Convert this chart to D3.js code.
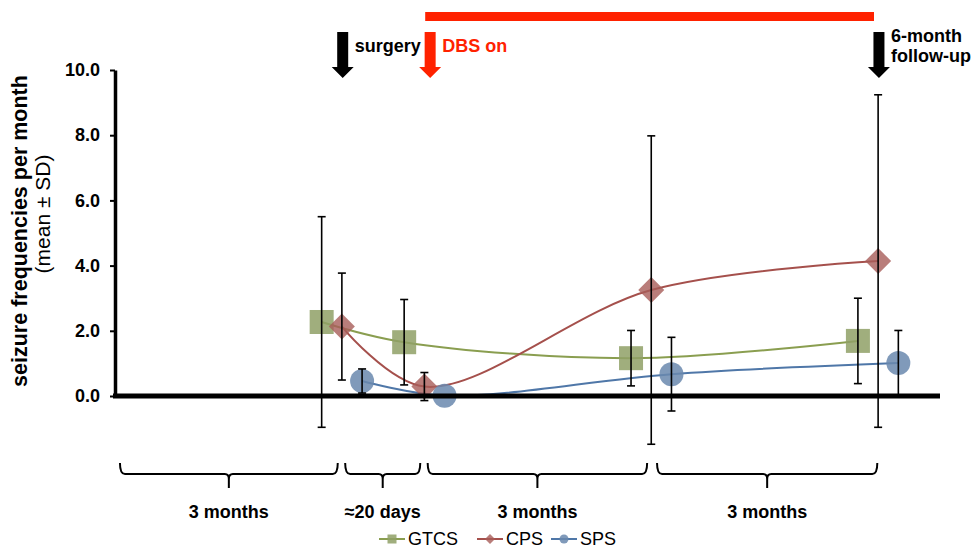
<!DOCTYPE html>
<html>
<head>
<meta charset="utf-8">
<script src="https://cdn.jsdelivr.net/npm/d3@7"></script>
<style>
  body { margin: 0; background: #fff; }
  svg { display: block; font-family: "Liberation Sans", Arial, sans-serif; }
</style>
</head>
<body>
<svg id="chart" width="971" height="553"></svg>
<script>
// time points (arbitrary timeline units) for the four assessment periods
let groupTime = [27.5, 37.5, 65.0, 92.5];

let seriesNames = ["GTCS", "CPS", "SPS"];
let seriesOffset = [-2.45, 0, 2.45];

let gtcsMean = [2.27, 1.65, 1.16, 1.69],
    gtcsSD = [3.23, 1.31, 0.85, 1.31];
let cpsMean = [2.13, 0.29, 3.25, 4.14],
    cpsSD = [1.64, 0.43, 4.73, 5.1];
let spsMean = [0.46, 0.01, 0.67, 1.01],
    spsSD = [0.37, 0, 1.13, 1.0];

let yTicks = [0, 2, 4, 6, 8, 10];

// braces under the axis: [start, end, label]
let periods = [
    [0.6, 27.0, "3 months"],
    [27.9, 37.0, "≈20 days"],
    [37.9, 64.5, "3 months"],
    [65.7, 92.4, "3 months"]
];

// arrows at the top
let events = [
    { t: 27.6, label: ["surgery"], color: "#000" },
    { t: 38.2, label: ["DBS on"], color: "#ff2200" },
    { t: 92.6, label: ["6-month", "follow-up"], color: "#000" }
];
let dbsPeriod = [37.6, 92.0];

let colors = {
    GTCS: { line: "#8a9e50", fill: "#8fa066" },
    CPS: { line: "#a5504c", fill: "#a85c59" },
    SPS: { line: "#4f77a8", fill: "#6a88ae" }
};

let series = [
    { name: "GTCS", mean: gtcsMean, sd: gtcsSD },
    { name: "CPS", mean: cpsMean, sd: cpsSD },
    { name: "SPS", mean: spsMean, sd: spsSD }
];

let svg = d3.select("#chart");

let x = d3.scaleLinear().domain([0, 100]).range([115, 940]);
let y = d3.scaleLinear().domain([0, 10]).range([396, 70]);

// y axis
let yAxis = svg.append("g")
    .attr("transform", "translate(115,0)")
    .call(d3.axisLeft(y).tickValues(yTicks).tickFormat(d3.format(".1f"))
        .tickSize(5).tickSizeOuter(0).tickPadding(10));
yAxis.select(".domain").attr("stroke-width", 3.5);
yAxis.selectAll(".tick line").attr("stroke-width", 2);
yAxis.selectAll(".tick text")
    .attr("font-size", 18)
    .attr("font-weight", "bold")
    .attr("font-family", "Liberation Sans, Arial, sans-serif")
    .attr("fill", "#000");

svg.append("text")
    .attr("transform", "translate(27,231) rotate(-90)")
    .attr("text-anchor", "middle")
    .attr("font-size", 21.5)
    .attr("font-weight", "bold")
    .text("seizure frequencies per month");
svg.append("text")
    .attr("transform", "translate(50,214) rotate(-90)")
    .attr("text-anchor", "middle")
    .attr("font-size", 21)
    .text("(mean ± SD)");

let points = s => s.mean.map((m, i) => ({
    x: groupTime[i] + seriesOffset[seriesNames.indexOf(s.name)],
    m: m,
    sd: s.sd[i]
}));

// smooth lines
let line = d3.line()
    .x(d => x(d.x))
    .y(d => y(d.m))
    .curve(d3.curveCatmullRom);

series.forEach(s => {
    svg.append("path")
        .datum(points(s))
        .attr("d", line)
        .attr("fill", "none")
        .attr("stroke", colors[s.name].line)
        .attr("stroke-width", 2);
});

// markers
function drawMarker(g, name, cx, cy, size) {
    if (name == "GTCS") {
        g.append("rect")
            .attr("x", cx - size / 2).attr("y", cy - size / 2)
            .attr("width", size).attr("height", size)
            .attr("fill", colors[name].fill).attr("fill-opacity", 0.85);
    } else if (name == "CPS") {
        let h = size / 2;
        g.append("path")
            .attr("d", `M${cx},${cy - h}L${cx + h},${cy}L${cx},${cy + h}L${cx - h},${cy}Z`)
            .attr("fill", colors[name].fill).attr("fill-opacity", 0.8);
    } else {
        g.append("circle")
            .attr("cx", cx).attr("cy", cy).attr("r", size / 2)
            .attr("fill", colors[name].fill).attr("fill-opacity", 0.85);
    }
}

let markG = svg.append("g");
series.forEach(s => {
    points(s).forEach(p => {
        drawMarker(markG, s.name, x(p.x), y(p.m), s.name == "CPS" ? 26 : 24);
    });
});

// error bars
let errG = svg.append("g").attr("stroke", "#000").attr("stroke-width", 1.6);
series.forEach(s => {
    points(s).filter(p => p.sd > 0).forEach(p => {
        let cx = x(p.x), top = y(p.m + p.sd), bot = y(p.m - p.sd);
        errG.append("line").attr("x1", cx).attr("x2", cx).attr("y1", top).attr("y2", bot);
        errG.append("line").attr("x1", cx - 4).attr("x2", cx + 4).attr("y1", top).attr("y2", top);
        errG.append("line").attr("x1", cx - 4).attr("x2", cx + 4).attr("y1", bot).attr("y2", bot);
    });
});

// thick zero line
svg.append("line")
    .attr("x1", 113).attr("x2", x(100))
    .attr("y1", y(0)).attr("y2", y(0))
    .attr("stroke", "#000").attr("stroke-width", 5);

// braces
let braceTop = 463, braceMid = 474, braceTip = 488;
periods.forEach(p => {
    let x0 = x(p[0]), x1 = x(p[1]), mid = (x0 + x1) / 2;
    svg.append("path")
        .attr("d", `M${x0},${braceTop}Q${x0},${braceMid} ${x0 + 5},${braceMid}H${mid - 4}` +
            `Q${mid},${braceMid} ${mid},${braceMid + 5}V${braceTip}` +
            `M${mid},${braceMid + 5}Q${mid},${braceMid} ${mid + 4},${braceMid}H${x1 - 5}` +
            `Q${x1},${braceMid} ${x1},${braceTop}`)
        .attr("fill", "none")
        .attr("stroke", "#000")
        .attr("stroke-width", 2);
    svg.append("text")
        .attr("x", mid).attr("y", 518)
        .attr("text-anchor", "middle")
        .attr("font-size", 18)
        .attr("font-weight", "bold")
        .text(p[2]);
});

// DBS bar
svg.append("rect")
    .attr("x", x(dbsPeriod[0])).attr("y", 12)
    .attr("width", x(dbsPeriod[1]) - x(dbsPeriod[0])).attr("height", 9)
    .attr("fill", "#ff2200");

// arrows
events.forEach(e => {
    let cx = x(e.t);
    svg.append("path")
        .attr("d", `M${cx - 5.5},32H${cx + 5.5}V67H${cx + 11}L${cx},78L${cx - 11},67H${cx - 5.5}Z`)
        .attr("fill", e.color);
    let t = svg.append("text")
        .attr("x", cx + 12)
        .attr("y", e.label.length > 1 ? 42 : 52)
        .attr("font-size", 18)
        .attr("font-weight", "bold")
        .attr("fill", e.color);
    e.label.forEach((l, i) => {
        t.append("tspan").attr("x", cx + 12).attr("dy", i ? 20 : 0).text(l);
    });
});

// legend
let legendX = [379, 477, 551];
let legG = svg.append("g");
series.forEach((s, i) => {
    let lx = legendX[i], ly = 539;
    legG.append("line")
        .attr("x1", lx).attr("x2", lx + 26)
        .attr("y1", ly).attr("y2", ly)
        .attr("stroke", colors[s.name].line).attr("stroke-width", 2);
    drawMarker(legG, s.name, lx + 13, ly, s.name == "CPS" ? 10 : 9);
    legG.append("text")
        .attr("x", lx + 29).attr("y", ly + 6)
        .attr("font-size", 18)
        .text(s.name);
});
</script>
</body>
</html>
